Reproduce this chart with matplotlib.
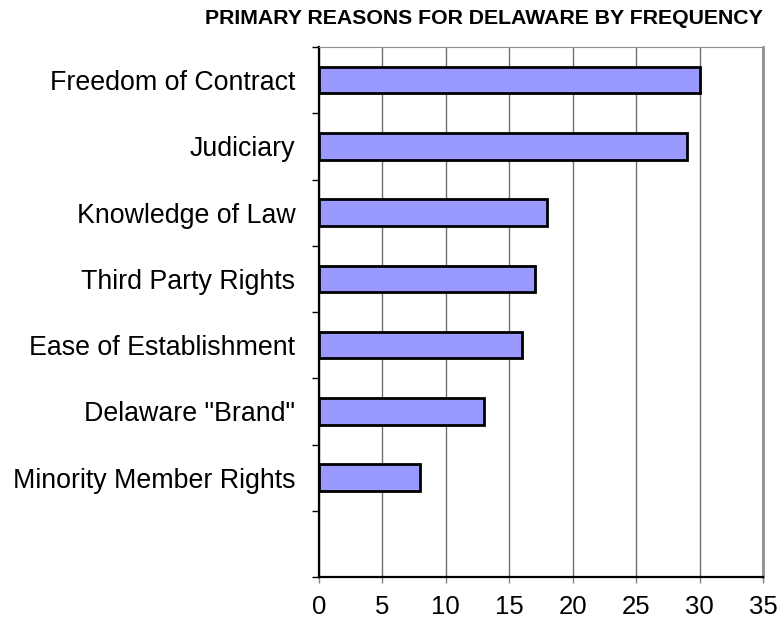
import matplotlib.pyplot as plt
import numpy as np

plt.rcParams['font.family'] = ['Liberation Sans', 'DejaVu Sans']

# data
categories = ['Freedom of Contract', 'Judiciary', 'Knowledge of Law',
              'Third Party Rights', 'Ease of Establishment',
              'Delaware "Brand"', 'Minority Member Rights']
counts = [30, 29, 18, 17, 16, 13, 8]
x_ticks = [0, 5, 10, 15, 20, 25, 30, 35]

fig = plt.figure(figsize=(7.78, 6.22), dpi=100)
ax = fig.add_axes([319 / 778, 1 - 577 / 622, (763 - 319) / 778, (577 - 47) / 622])

n_slots = len(categories) + 1  # one empty slot at the bottom
pos = np.arange(len(categories))
ax.barh(pos, counts, height=0.4, color='#9999ff', edgecolor='black', linewidth=2, zorder=3)

ax.set_xlim(0, 35)
ax.set_ylim(n_slots - 0.5, -0.5)

ax.set_xticks(x_ticks)
ax.set_xticklabels([str(t) for t in x_ticks], fontsize=18.5)
ax.xaxis.grid(True, color='#707070', linewidth=1, zorder=0)

ax.set_yticks(np.arange(n_slots + 1) - 0.5)
ax.set_yticklabels([])
ax.set_yticks(pos, minor=True)
ax.set_yticklabels(categories, minor=True, fontsize=19.3)
ax.tick_params(axis='y', which='minor', length=0, pad=17)
ax.tick_params(axis='y', which='major', length=5, direction='out', width=1, color='black')
ax.tick_params(axis='x', length=4.5, direction='out', width=1, pad=8.5, color='#808080')

for side in ['top', 'right']:
    ax.spines[side].set_color('#909090')
ax.spines['right'].set_linewidth(2)
ax.spines['left'].set_linewidth(1.6)
ax.spines['bottom'].set_linewidth(1.6)

fig.text(763 / 778, 1 - 18 / 622, 'PRIMARY REASONS FOR DELAWARE BY FREQUENCY',
         ha='right', va='center', fontsize=15.3, fontweight='bold')

fig.savefig('out.png', dpi=100)
